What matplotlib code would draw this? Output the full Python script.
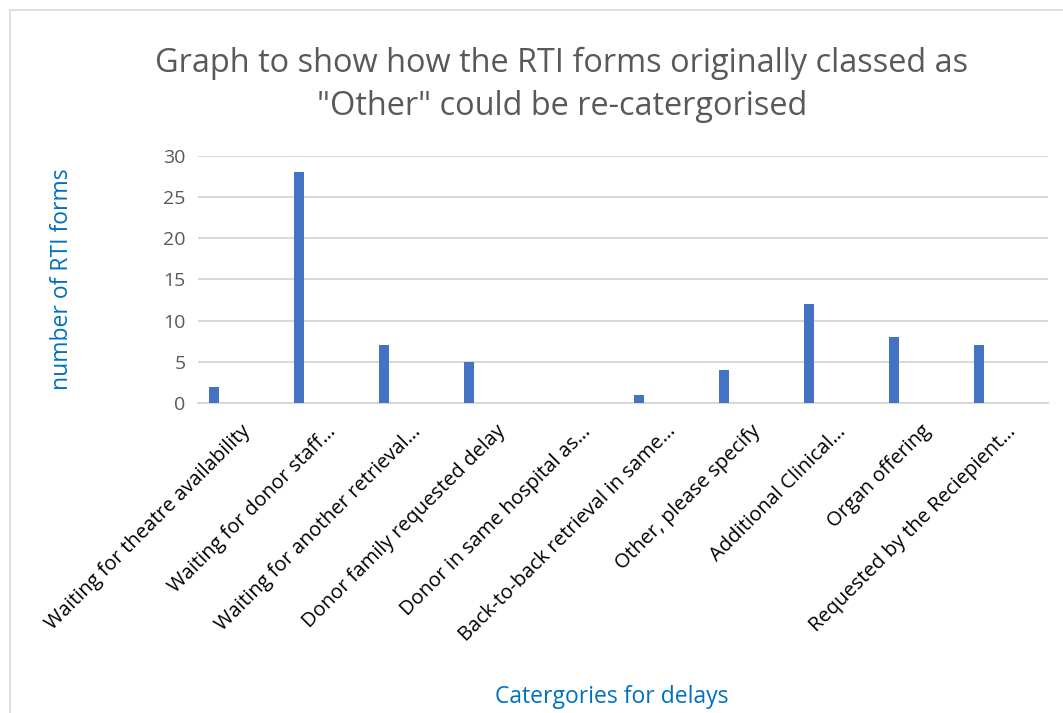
import matplotlib.pyplot as plt
import numpy as np
from matplotlib.patches import Rectangle

categories = ["Waiting for theatre availability",
              "Waiting for donor staff…",
              "Waiting for another retrieval…",
              "Donor family requested delay",
              "Donor in same hospital as…",
              "Back-to-back retrieval in same…",
              "Other, please specify",
              "Additional Clinical…",
              "Organ offering",
              "Requested by the Reciepient…"]
counts = [2, 28, 7, 5, 0, 1, 4, 12, 8, 7]

plt.rcParams['font.family'] = ['Open Sans', 'DejaVu Sans']

fig = plt.figure(figsize=(10.63, 7.13), dpi=100)
fig.patches.append(Rectangle((10/1063, -0.01), 1.05, (713-10)/713 + 0.01,
                             transform=fig.transFigure, fill=False,
                             edgecolor='#D9D9D9', linewidth=1.2))
ax = fig.add_axes([198/1063, 1-403/713, (1048-198)/1063, (403-156)/713])

x = np.arange(len(categories))
# bars sit in the left part of each slot, like a clustered excel chart
ax.bar(x - 0.31, counts, width=0.12, color='#4472C4', zorder=3)

ax.set_xlim(-0.5, len(categories) - 0.5)
ax.set_ylim(0, 30)
ax.set_yticks(range(0, 31, 5))
ax.yaxis.grid(True, color='#D9D9D9', linewidth=1.5, zorder=0)
for s in ['top', 'right', 'left']:
    ax.spines[s].set_visible(False)
ax.spines['bottom'].set_color('#D9D9D9')
ax.spines['bottom'].set_linewidth(1.5)
ax.tick_params(axis='both', length=0)
ax.tick_params(axis='y', labelsize=14, labelcolor='#595959', pad=9)

ax.set_xticks(x)
ax.set_xticklabels(categories, rotation=45, ha='right', va='top',
                   rotation_mode='anchor', fontsize=14.5, color='black')
for lab in ax.get_xticklabels():
    lab.set_y(-0.055)

fig.text(562/1063, 1-85/713, 'Graph to show how the RTI forms originally classed as\n"Other" could be re-catergorised',
         ha='center', va='center', fontsize=23.4, color='#595959', linespacing=1.38)
fig.text(62/1063, 1-279/713, 'number of RTI forms', rotation=90, ha='center', va='center',
         fontsize=16.5, color='#0070C0')
fig.text(612/1063, 1-697/713, 'Catergories for delays', ha='center', va='center',
         fontsize=16.5, color='#0070C0')

plt.savefig('out.png', dpi=100)
